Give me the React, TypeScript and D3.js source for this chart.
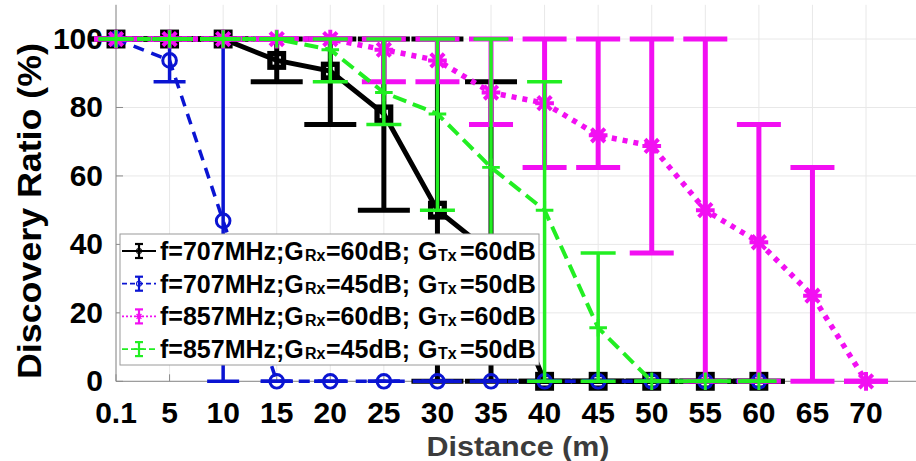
import React from "react";
import * as d3 from "d3";

const xLabels = ["0.1", "5", "10", "15", "20", "25", "30", "35", "40", "45", "50", "55", "60", "65", "70"];
const yTicks = [0, 20, 40, 60, 80, 100];

const blackVal = [100, 100, 100, 93.75, 90.625, 78.125, 50, 37.5, 0, 0, 0, 0, 0, null, null];
const blackLo = [100, 100, 100, 87.5, 75, 50, 0, 0, 0, 0, 0, 0, 0, null, null];
const blackHi = [100, 100, 100, 100, 100, 100, 100, 87.5, 0, 0, 0, 0, 0, null, null];

const blueVal = [100, 93.75, 46.875, 0, 0, 0, 0, 0, 0, 0, 0, 0, 0, null, null];
const blueLo = [100, 87.5, 0, 0, 0, 0, 0, 0, 0, 0, 0, 0, 0, null, null];
const blueHi = [100, 100, 100, 0, 0, 0, 0, 0, 0, 0, 0, 0, 0, null, null];

const magVal = [100, 100, 100, 100, 100, 96.875, 93.75, 84.375, 81.25, 71.875, 68.75, 50, 40.625, 25, 0];
const magLo = [100, 100, 100, 100, 100, 87.5, 87.5, 75, 62.5, 62.5, 37.5, 0, 0, 0, 0];
const magHi = [100, 100, 100, 100, 100, 100, 100, 100, 100, 100, 100, 100, 75, 62.5, 0];

const greenVal = [100, 100, 100, 100, 96.875, 84.375, 78.125, 62.5, 50, 15.625, 0, 0, 0, null, null];
const greenLo = [100, 100, 100, 100, 87.5, 75, 50, 25, 0, 0, 0, 0, 0, null, null];
const greenHi = [100, 100, 100, 100, 100, 100, 100, 100, 87.5, 37.5, 0, 0, 0, null, null];

const legendFreq = ["707", "707", "857", "857"];
const legendRx = ["60", "45", "60", "45"];
const legendTx = ["60", "50", "60", "50"];

type Series = {
  val: (number | null)[];
  lo: (number | null)[];
  hi: (number | null)[];
  color: string;
  lw: number;
  dash: string;
  ebw: number;
  cap: number;
  marker: string;
};

const series: Series[] = [
  { val: blackVal, lo: blackLo, hi: blackHi, color: "#000000", lw: 5, dash: "none", ebw: 5, cap: 26, marker: "square" },
  { val: blueVal, lo: blueLo, hi: blueHi, color: "#0a14d2", lw: 3.5, dash: "11 8", ebw: 3.5, cap: 16, marker: "circle" },
  { val: magVal, lo: magLo, hi: magHi, color: "#f20ff2", lw: 5.5, dash: "5 6", ebw: 5, cap: 22, marker: "asterisk" },
  { val: greenVal, lo: greenLo, hi: greenHi, color: "#22ee22", lw: 4, dash: "14 7", ebw: 3.5, cap: 17.5, marker: "plus" },
];

const W = 916;
const H = 461;
const x = d3.scaleLinear().domain([0, 15]).range([116, 919.6]);
const y = d3.scaleLinear().domain([0, 110]).range([381.3, 4.8]);
const FONT = "'Liberation Sans', Arial, Helvetica, sans-serif";

function Marker({ kind, cx, cy, color, s }: { kind: string; cx: number; cy: number; color: string; s: number }) {
  if (kind === "square") {
    return <rect x={cx - s * 0.62} y={cy - s * 0.62} width={s * 1.24} height={s * 1.24} fill="none" stroke={color} strokeWidth={s * 0.48} />;
  }
  if (kind === "circle") {
    return <circle cx={cx} cy={cy} r={s * 0.62} fill="none" stroke={color} strokeWidth={s * 0.27} />;
  }
  if (kind === "asterisk") {
    const a = s * 0.85;
    const d = a * 0.72;
    return (
      <path
        d={`M${cx - a},${cy}L${cx + a},${cy}M${cx},${cy - a}L${cx},${cy + a}M${cx - d},${cy - d}L${cx + d},${cy + d}M${cx - d},${cy + d}L${cx + d},${cy - d}`}
        stroke={color}
        strokeWidth={s * 0.36}
        fill="none"
      />
    );
  }
  const a = s * 0.8;
  return <path d={`M${cx - a},${cy}L${cx + a},${cy}M${cx},${cy - a}L${cx},${cy + a}`} stroke={color} strokeWidth={s * 0.27} fill="none" />;
}

export default function App() {
  const line = d3
    .line<number | null>()
    .defined((d) => d != null)
    .x((_, i) => x(i))
    .y((d) => y(d as number));

  const legendY0 = 251;
  const legendDY = 32.7;

  return (
    <svg width={W} height={H} style={{ position: "absolute", left: 0, top: 0, background: "#fff" }} fontFamily={FONT}>
      <rect x={0} y={0} width={W} height={H} fill="#fff" />
      {/* grid */}
      {xLabels.map((_, i) => (
        <line key={"gx" + i} x1={x(i)} x2={x(i)} y1={y(110)} y2={y(0)} stroke="#e8e8e8" strokeWidth={1} />
      ))}
      {yTicks.map((t) => (
        <line key={"gy" + t} x1={x(0)} x2={W} y1={y(t)} y2={y(t)} stroke="#e8e8e8" strokeWidth={1} />
      ))}
      {/* axes */}
      <line x1={x(0)} x2={x(0)} y1={y(110)} y2={y(0)} stroke="#8a8a8a" strokeWidth={1} />
      <line x1={x(0)} x2={W} y1={y(0)} y2={y(0)} stroke="#8a8a8a" strokeWidth={1} />
      {yTicks.map((t) => (
        <line key={"ty" + t} x1={x(0)} x2={x(0) + 7} y1={y(t)} y2={y(t)} stroke="#8a8a8a" strokeWidth={1} />
      ))}
      {xLabels.map((_, i) => (
        <line key={"tx" + i} x1={x(i)} x2={x(i)} y1={y(0)} y2={y(0) - 7} stroke="#8a8a8a" strokeWidth={1} />
      ))}
      {/* tick labels */}
      {yTicks.map((t) => (
        <text key={"ly" + t} x={103} y={y(t) + 10} textAnchor="end" fontSize={30} fontWeight="bold" fill="#000">
          {t}
        </text>
      ))}
      {xLabels.map((l, i) => (
        <text key={"lx" + i} x={x(i)} y={423} textAnchor="middle" fontSize={30} fontWeight="bold" fill="#000">
          {l}
        </text>
      ))}
      <text x={518} y={456} textAnchor="middle" fontSize={28} fontWeight="bold" fill="#3c3c3c" textLength={183} lengthAdjust="spacingAndGlyphs">
        Distance (m)
      </text>
      <text
        transform={`translate(41,211) rotate(-90)`}
        textAnchor="middle"
        fontSize={33}
        fontWeight="bold"
        fill="#000"
        textLength={336}
        lengthAdjust="spacingAndGlyphs"
      >
        Discovery Ratio (%)
      </text>
      {/* series */}
      {series.map((s, si) => (
        <g key={"s" + si}>
          <path d={line(s.val) || ""} fill="none" stroke={s.color} strokeWidth={s.lw} strokeDasharray={s.dash} />
          {s.val.map((v, i) => {
            const lo = s.lo[i];
            const hi = s.hi[i];
            if (v == null || lo == null || hi == null) return null;
            return (
              <g key={"e" + i}>
                <line x1={x(i)} x2={x(i)} y1={y(lo)} y2={y(hi)} stroke={s.color} strokeWidth={s.ebw} />
                <line x1={x(i) - s.cap} x2={x(i) + s.cap} y1={y(lo)} y2={y(lo)} stroke={s.color} strokeWidth={s.ebw} />
                <line x1={x(i) - s.cap} x2={x(i) + s.cap} y1={y(hi)} y2={y(hi)} stroke={s.color} strokeWidth={s.ebw} />
              </g>
            );
          })}
          {s.val.map((v, i) =>
            v == null ? null : <Marker key={"m" + i} kind={s.marker} cx={x(i)} cy={y(v)} color={s.color} s={11} />
          )}
        </g>
      ))}
      {/* legend */}
      <rect x={120} y={234} width={419} height={131} fill="#fff" stroke="#9a9a9a" strokeWidth={1} />
      {series.map((s, i) => {
        const cy = legendY0 + i * legendDY;
        const by = cy + 9;
        return (
          <g key={"lg" + i}>
            <line x1={122} x2={156} y1={cy} y2={cy} stroke={s.color} strokeWidth={1.8} strokeDasharray={s.dash === "none" ? "none" : s.marker === "asterisk" ? "2 2" : s.marker === "plus" ? "6 3" : "5 3"} />
            <line x1={139} x2={139} y1={cy - 7} y2={cy + 7} stroke={s.color} strokeWidth={2.2} />
            <line x1={135} x2={143} y1={cy - 7} y2={cy - 7} stroke={s.color} strokeWidth={2.2} />
            <line x1={135} x2={143} y1={cy + 7} y2={cy + 7} stroke={s.color} strokeWidth={2.2} />
            <Marker kind={s.marker === "square" ? "circle" : s.marker} cx={139} cy={cy} color={s.color} s={s.marker === "plus" ? 6 : 4} />
            <g fontWeight="bold" fill="#000">
              <text x={160} y={by} fontSize={25}>{`f=${legendFreq[i]}MHz;G`}</text>
              <text x={305} y={by + 1} fontSize={16}>Rx</text>
              <text x={326} y={by} fontSize={25}>{`=${legendRx[i]}dB;`}</text>
              <text x={418} y={by} fontSize={25}>G</text>
              <text x={438} y={by + 1} fontSize={16}>Tx</text>
              <text x={460} y={by} fontSize={25}>{`=${legendTx[i]}dB`}</text>
            </g>
          </g>
        );
      })}
    </svg>
  );
}
